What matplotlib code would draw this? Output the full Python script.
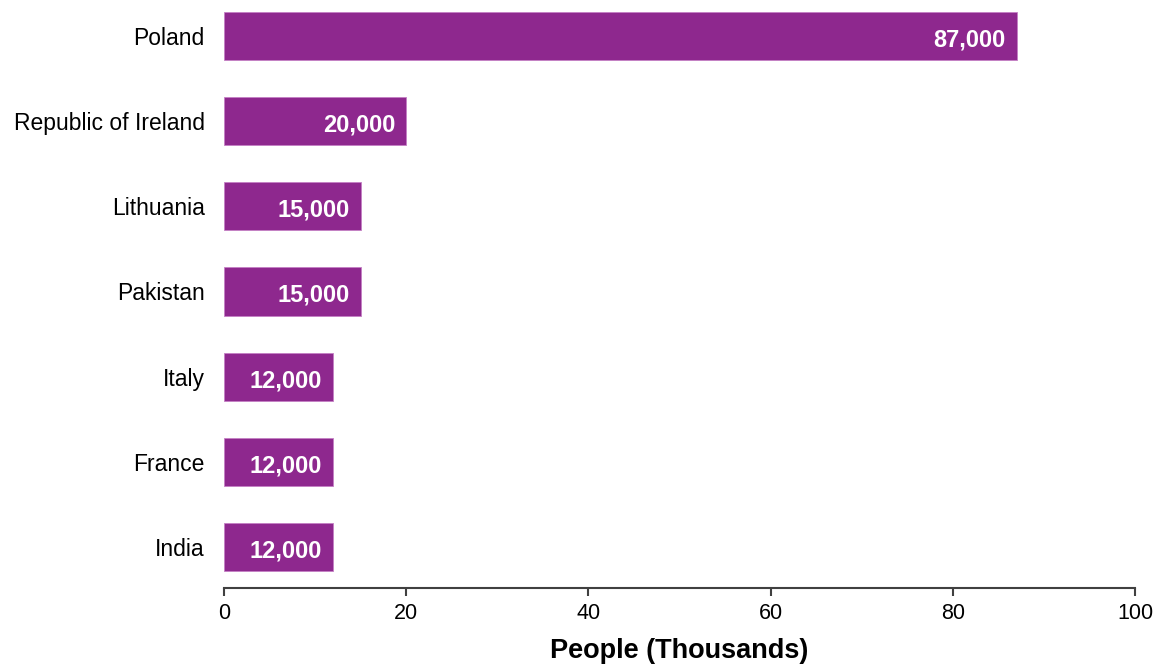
import matplotlib
matplotlib.use("Agg")
import matplotlib.pyplot as plt

countries = ["Poland", "Republic of Ireland", "Lithuania", "Pakistan", "Italy", "France", "India"]
values = [87, 20, 15, 15, 12, 12, 12]
value_labels = ["87,000", "20,000", "15,000", "15,000", "12,000", "12,000", "12,000"]
xticks = [0, 20, 40, 60, 80, 100]

plt.rcParams['font.family'] = ['Liberation Sans', 'DejaVu Sans']

fig = plt.figure(figsize=(11.6, 6.64), dpi=100)
ax = fig.add_axes([224/1160, 1-588/664, (1135-224)/1160, 588/664])

n = len(countries)
ypos = list(range(n - 1, -1, -1))
color = "#8E288E"
ax.barh(ypos, values, height=0.565, color=color, edgecolor="#C47FC4", linewidth=0.6)
for y, v, lab in zip(ypos, values, value_labels):
    ax.annotate(lab, xy=(v, y), xytext=(-11, -4), textcoords="offset pixels",
                ha="right", va="center", color="white", fontsize=17, fontweight="bold")

ax.set_yticks(ypos)
ax.set_yticklabels(countries, fontsize=16.5)
ax.tick_params(axis="y", length=0, pad=14)
ax.set_xlim(0, 100)
ax.set_ylim(-0.48, n - 1 + 0.42)
ax.set_xticks(xticks)
ax.set_xticklabels([str(t) for t in xticks], fontsize=15.5)
ax.tick_params(axis="x", length=6, width=1.5, color="#404040", pad=5)
for s in ["top", "right", "left"]:
    ax.spines[s].set_visible(False)
ax.spines["bottom"].set_color("#404040")
ax.spines["bottom"].set_linewidth(1.5)
ax.set_xlabel("People (Thousands)", fontsize=19.5, fontweight="bold", labelpad=10)

fig.savefig("out.png", dpi=100)
